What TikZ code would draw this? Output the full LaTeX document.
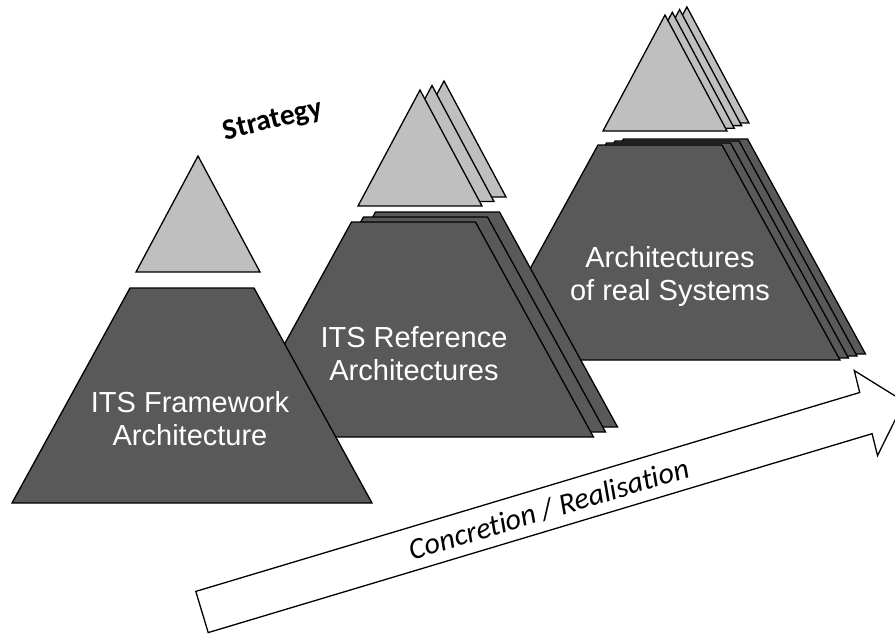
\documentclass[tikz,border=0pt]{standalone}
\usepackage{fontspec}
\setmainfont{Liberation Sans}
\newfontfamily\calfont[Ligatures=NoCommon]{Carlito}
\definecolor{pdark}{HTML}{595959}
\definecolor{plight}{HTML}{BFBFBF}
\tikzset{
  tri/.style={draw=black, fill=plight, line width=1.3pt, line join=miter},
  trap/.style={draw=black, fill=pdark, line width=1.3pt, line join=miter},
  pyrlabel/.style={text=white, font=\fontsize{29}{33}\selectfont, align=center, inner sep=0pt},
  stratlabel/.style={font=\calfont\bfseries\fontsize{29.5}{31}\selectfont, inner sep=0pt},
  arrowlabel/.style={font=\calfont\itshape\fontsize{30}{32}\selectfont, inner sep=0pt},
  bigarrow/.style={draw=black, fill=white, line width=1.3pt, line join=miter}
}
\newcommand{\ptri}[2]{\draw[tri] (#1,#2) -- (#1-62,#2+116) -- (#1+62,#2+116) -- cycle;}
\newcommand{\ptrap}[2]{\draw[trap] (#1-62,#2) -- (#1+62,#2) -- (#1+180,#2+215) -- (#1-180,#2+215) -- cycle;}
\begin{document}
\begin{tikzpicture}[x=1pt,y=-1pt]
\useasboundingbox (0,0) rectangle (895,634);
\clip (0,0) rectangle (895,634);

% third pyramid: architectures of real systems
\foreach \k in {3,2,1,0} {
  \begin{scope}[shift={(8.5*\k,-2*\k)}] \ptrap{660}{145} \end{scope}
}
\foreach \k in {3,2,1,0} {
  \begin{scope}[shift={(7.3*\k,-2.7*\k)}] \ptri{665}{15} \end{scope}
}
\node[pyrlabel] (real) at (670,277) {Architectures\\of real Systems};

% second pyramid: reference architectures
\foreach \k in {2,1,0} {
  \begin{scope}[shift={(12*\k,-5*\k)}] \ptrap{413.5}{222} \end{scope}
}
\foreach \k in {2,1,0} {
  \begin{scope}[shift={(12*\k,-4.5*\k)}] \ptri{420}{90} \end{scope}
}
\node[pyrlabel] (ref) at (414,354) {ITS Reference\\Architectures};

% first pyramid: framework architecture
\ptrap{192}{288}
\ptri{198}{156}
\node[pyrlabel] (frame) at (190,419) {ITS Framework\\Architecture};

\node[stratlabel, rotate=14] (strategy) at (273,121) {Strategy};

% big arrow
\draw[bigarrow] (195.8,591.4) -- (859.7,392.5) -- (854.3,370.6) -- (904.2,401.6)
  -- (877.5,455.6) -- (872.1,433.7) -- (208.2,632.6) -- cycle;
\node[arrowlabel, rotate=16.7] (conc) at (549,509) {Concretion / Realisation};
\end{tikzpicture}
\end{document}
